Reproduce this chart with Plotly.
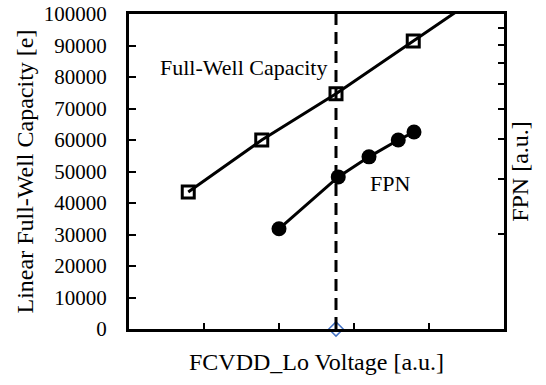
import plotly.graph_objects as go

# Data
fwc_x = [0.79, 1.77, 2.76, 3.79, 4.8]
fwc_y = [43500, 60000, 74700, 91400, 107800]
fpn_x = [2.0, 2.79, 3.2, 3.59, 3.8]
fpn_y = [2.08, 3.04, 3.52, 3.98, 4.22]
marker_x = [2.76]
marker_y = [0]
left_ticks = [0, 10000, 20000, 30000, 40000, 50000, 60000, 70000, 80000, 90000, 100000]
left_labels = [str(v) for v in left_ticks]
bottom_ticks = [1, 2, 3, 4]
right_ticks = [2, 3, 4, 5, 6, 7, 8, 9]

FONT = "Liberation Serif, Times New Roman, serif"

fig = go.Figure()
fig.add_trace(go.Scatter(
    x=fwc_x, y=fwc_y, mode="lines+markers",
    line=dict(color="black", width=3),
    marker=dict(symbol="square-open", size=12, color="black", line=dict(width=3)),
    showlegend=False))
fig.add_trace(go.Scatter(
    x=fpn_x, y=fpn_y, yaxis="y2", mode="lines+markers",
    line=dict(color="black", width=3),
    marker=dict(symbol="circle", size=15, color="black"),
    showlegend=False))
fig.add_trace(go.Scatter(
    x=marker_x, y=marker_y, mode="markers", cliponaxis=False,
    marker=dict(symbol="diamond-open", size=11, color="#4472C4", line=dict(width=1.5)),
    showlegend=False))

fig.add_shape(type="line", x0=marker_x[0], x1=marker_x[0], y0=0, y1=100000,
              xref="x", yref="y", line=dict(color="black", width=3, dash="12px,7px"))

fig.add_annotation(x=1.53, y=82900, text="Full-Well Capacity", showarrow=False,
                   font=dict(family=FONT, size=22, color="black"))
fig.add_annotation(x=3.48, y=46300, text="FPN", showarrow=False,
                   font=dict(family=FONT, size=22, color="black"))

fig.update_layout(
    width=546, height=385,
    margin=dict(l=129, r=42, t=14, b=56),
    paper_bgcolor="white", plot_bgcolor="white",
    font=dict(family=FONT, size=21, color="black"),
    xaxis=dict(range=[0, 5], tickvals=bottom_ticks, showticklabels=False,
               ticks="inside", ticklen=6, tickwidth=2, tickcolor="black",
               showline=True, linewidth=3, linecolor="black", mirror=True,
               showgrid=False, zeroline=False, automargin=False,
               title=dict(text="FCVDD_Lo Voltage [a.u.]", standoff=23,
                          font=dict(family=FONT, size=24))),
    yaxis=dict(range=[0, 100000], tickvals=left_ticks, ticktext=left_labels,
               ticks="inside", ticklen=7, tickwidth=2, tickcolor="black",
               ticklabelstandoff=15, automargin=False, ticklabeloverflow="allow",
               showline=True, linewidth=3, linecolor="black",
               showgrid=False, zeroline=False,
               tickfont=dict(family=FONT, size=21),
               title=dict(text="Linear Full-Well Capacity [e]", standoff=4,
                          font=dict(family=FONT, size=24))),
    yaxis2=dict(type="log", range=[0, 1], overlaying="y", side="right",
                tickvals=right_ticks, showticklabels=False, automargin=False,
                ticks="inside", ticklen=6, tickwidth=2, tickcolor="black",
                showline=True, linewidth=3, linecolor="black",
                showgrid=False, zeroline=False,
                title=dict(text="FPN [a.u.]", standoff=6,
                           font=dict(family=FONT, size=24))),
)

fig.write_html("out.html", config={"displayModeBar": False},
               post_script="document.body.style.margin='0';")
